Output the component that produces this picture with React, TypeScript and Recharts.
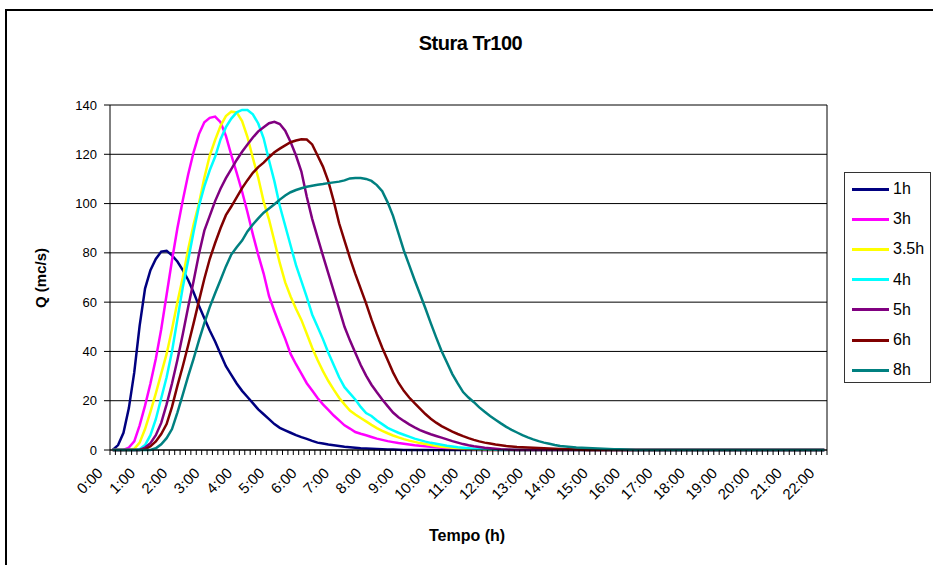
import { LineChart, Line, XAxis, YAxis, CartesianGrid, ReferenceLine } from "recharts";

// 10-minute steps, 0:00 .. 22:00
const times = [
  "0:00", "0:10", "0:20", "0:30", "0:40", "0:50", "1:00", "1:10", "1:20", "1:30", "1:40", "1:50",
  "2:00", "2:10", "2:20", "2:30", "2:40", "2:50", "3:00", "3:10", "3:20", "3:30", "3:40", "3:50",
  "4:00", "4:10", "4:20", "4:30", "4:40", "4:50", "5:00", "5:10", "5:20", "5:30", "5:40", "5:50",
  "6:00", "6:10", "6:20", "6:30", "6:40", "6:50", "7:00", "7:10", "7:20", "7:30", "7:40", "7:50",
  "8:00", "8:10", "8:20", "8:30", "8:40", "8:50", "9:00", "9:10", "9:20", "9:30", "9:40", "9:50",
  "10:00", "10:10", "10:20", "10:30", "10:40", "10:50", "11:00", "11:10", "11:20", "11:30", "11:40", "11:50",
  "12:00", "12:10", "12:20", "12:30", "12:40", "12:50", "13:00", "13:10", "13:20", "13:30", "13:40", "13:50",
  "14:00", "14:10", "14:20", "14:30", "14:40", "14:50", "15:00", "15:10", "15:20", "15:30", "15:40", "15:50",
  "16:00", "16:10", "16:20", "16:30", "16:40", "16:50", "17:00", "17:10", "17:20", "17:30", "17:40", "17:50",
  "18:00", "18:10", "18:20", "18:30", "18:40", "18:50", "19:00", "19:10", "19:20", "19:30", "19:40", "19:50",
  "20:00", "20:10", "20:20", "20:30", "20:40", "20:50", "21:00", "21:10", "21:20", "21:30", "21:40", "21:50",
  "22:00",
];

// Q (mc/s) per storm duration
const q1h = [
  0, 2, 7, 17, 31.5, 50.5, 65.5, 73, 77.5, 80.5, 80.8, 79,
  76.5, 73, 69, 64, 58.5, 53.5, 48.5, 44, 39, 34, 30.5, 27,
  24, 21.5, 19, 16.5, 14.5, 12.5, 10.5, 9, 8, 7, 6, 5.2,
  4.5, 3.7, 3, 2.6, 2.2, 1.9, 1.6, 1.3, 1.1, 0.9, 0.7, 0.6,
  0.5, 0.4, 0.3, 0.2, 0.2, 0.1, 0, 0, 0, 0, 0, 0,
  0, 0, 0, 0, 0, 0, 0, 0, 0, 0, 0, 0,
  0, 0, 0, 0, 0, 0, 0, 0, 0, 0, 0, 0,
  0, 0, 0, 0, 0, 0, 0, 0, 0, 0, 0, 0,
  0, 0, 0, 0, 0, 0, 0, 0, 0, 0, 0, 0,
  0, 0, 0, 0, 0, 0, 0, 0, 0, 0, 0, 0,
  0, 0, 0, 0, 0, 0, 0, 0, 0, 0, 0, 0,
  0,
];

const q3h = [
  0, 0, 0, 1, 3.5, 10, 18, 27, 37, 49, 63, 77,
  90, 101.3, 111.8, 120.8, 128.2, 133, 134.8, 135.3, 133, 127.5, 119.7, 112.5,
  104.9, 96.5, 87.5, 79.2, 71.6, 62.4, 56.3, 50.5, 45.1, 39, 34.8, 31,
  27.1, 24.1, 21.1, 18.5, 16.3, 14, 12, 10, 8.7, 7.3, 6.6, 6,
  5.3, 4.6, 4.1, 3.6, 3.2, 2.8, 2.5, 2.2, 1.9, 1.7, 1.5, 1.3,
  1.1, 0.9, 0.7, 0.6, 0.5, 0.4, 0.3, 0.2, 0.1, 0, 0, 0,
  0, 0, 0, 0, 0, 0, 0, 0, 0, 0, 0, 0,
  0, 0, 0, 0, 0, 0, 0, 0, 0, 0, 0, 0,
  0, 0, 0, 0, 0, 0, 0, 0, 0, 0, 0, 0,
  0, 0, 0, 0, 0, 0, 0, 0, 0, 0, 0, 0,
  0, 0, 0, 0, 0, 0, 0, 0, 0, 0, 0, 0,
  0,
];

const q35h = [
  0, 0, 0, 0, 0.5, 3, 8.5, 15.5, 23, 31, 39, 49,
  60, 70, 81.5, 91.5, 100, 110.5, 119.5, 125.8, 131.5, 135.5, 137.3, 137,
  133.5, 127, 118.5, 110.5, 100.8, 93.5, 84.7, 75.8, 68, 62.3, 57.3, 52.8,
  47.2, 41.5, 36.5, 32, 28, 24.5, 21.2, 18.5, 16, 14.4, 13, 11.6,
  10.2, 8.9, 7.8, 6.8, 5.9, 5.1, 4.4, 3.8, 3.3, 2.8, 2.4, 2,
  1.6, 1.3, 1.1, 0.9, 0.7, 0.5, 0.4, 0.3, 0.2, 0.1, 0, 0,
  0, 0, 0, 0, 0, 0, 0, 0, 0, 0, 0, 0,
  0, 0, 0, 0, 0, 0, 0, 0, 0, 0, 0, 0,
  0, 0, 0, 0, 0, 0, 0, 0, 0, 0, 0, 0,
  0, 0, 0, 0, 0, 0, 0, 0, 0, 0, 0, 0,
  0, 0, 0, 0, 0, 0, 0, 0, 0, 0, 0, 0,
  0,
];

const q4h = [
  0, 0, 0, 0, 0, 0.3, 2, 6, 12.5, 21, 29.5, 40,
  53, 66, 77, 88.5, 99, 107, 113.5, 119, 126, 131, 134.5, 137,
  138, 138, 136.2, 132.5, 126.5, 117.5, 109, 99, 91, 83, 75, 68.5,
  62, 55, 50, 45, 39.5, 34.5, 29.5, 25.5, 23, 20.5, 17.5, 15,
  13.8, 12, 10.5, 9, 8, 7, 6.2, 5.4, 4.6, 4, 3.4, 2.9,
  2.5, 2.1, 1.7, 1.4, 1.1, 0.9, 0.7, 0.5, 0.4, 0.3, 0.2, 0.1,
  0, 0, 0, 0, 0, 0, 0, 0, 0, 0, 0, 0,
  0, 0, 0, 0, 0, 0, 0, 0, 0, 0, 0, 0,
  0, 0, 0, 0, 0, 0, 0, 0, 0, 0, 0, 0,
  0, 0, 0, 0, 0, 0, 0, 0, 0, 0, 0, 0,
  0, 0, 0, 0, 0, 0, 0, 0, 0, 0, 0, 0,
  0,
];

const q5h = [
  0, 0, 0, 0, 0, 0, 1, 2.8, 6, 11, 18.5, 27,
  36.5, 47, 58, 68.5, 79.5, 89, 95, 101, 106, 110.3, 114, 117.7,
  121, 124, 126.8, 129.3, 131, 132.6, 133.2, 132.3, 129.6, 125, 119.5, 113,
  102.8, 93.8, 86.3, 78.9, 71.7, 64.5, 57.3, 50, 44.5, 39.5, 34.5, 30.2,
  26.5, 23.4, 20.5, 17.8, 15.2, 13.3, 11.8, 10.4, 9.2, 8.1, 7.2, 6.4,
  5.7, 5, 4.3, 3.6, 3, 2.4, 1.9, 1.5, 1.2, 0.9, 0.7, 0.5,
  0.3, 0.2, 0.1, 0, 0, 0, 0, 0, 0, 0, 0, 0,
  0, 0, 0, 0, 0, 0, 0, 0, 0, 0, 0, 0,
  0, 0, 0, 0, 0, 0, 0, 0, 0, 0, 0, 0,
  0, 0, 0, 0, 0, 0, 0, 0, 0, 0, 0, 0,
  0, 0, 0, 0, 0, 0, 0, 0, 0, 0, 0, 0,
  0,
];

const q6h = [
  0, 0, 0, 0, 0, 0, 0.3, 1.5, 3.5, 6.5, 10.5, 17.5,
  26, 34, 42.5, 51.4, 60.5, 69.5, 77.5, 84, 90, 95.3, 98.8, 102.5,
  106.3, 109.5, 112.5, 114.8, 116.6, 118.8, 120.8, 122.3, 123.6, 124.9, 125.6, 126.1,
  126, 124, 119.5, 115, 109, 101, 92, 85, 78, 71.5, 65.5, 59.5,
  53, 47, 41.5, 36.5, 31.5, 27.3, 24, 21.3, 19, 16.8, 14.6, 12.7,
  11.1, 9.7, 8.6, 7.5, 6.5, 5.6, 4.8, 4.1, 3.5, 3, 2.6, 2.2,
  1.9, 1.6, 1.4, 1.2, 1.1, 1, 0.9, 0.8, 0.7, 0.6, 0.5, 0.4,
  0.3, 0.3, 0.2, 0.1, 0, 0, 0, 0, 0, 0, 0, 0,
  0, 0, 0, 0, 0, 0, 0, 0, 0, 0, 0, 0,
  0, 0, 0, 0, 0, 0, 0, 0, 0, 0, 0, 0,
  0, 0, 0, 0, 0, 0, 0, 0, 0, 0, 0, 0,
  0,
];

const q8h = [
  0, 0, 0, 0, 0, 0, 0, 0, 0.7, 2.3, 4.8, 8.5,
  15.2, 22.5, 30, 37, 44.5, 51.5, 58, 63.6, 69, 74.5, 79.3, 82.3,
  85, 88.7, 91.5, 94, 96.3, 98, 99.7, 101.6, 103.3, 104.6, 105.5, 106.2,
  106.8, 107.2, 107.6, 107.9, 108.3, 108.6, 108.9, 109.4, 110.2, 110.4, 110.4, 110,
  109.2, 107.5, 105, 100.5, 95, 88, 81, 75, 69, 63.3, 57.5, 51.5,
  45.7, 40.2, 35.5, 30.8, 27, 23.5, 21.3, 19.4, 17.3, 15.5, 13.8, 12.3,
  10.8, 9.4, 8.2, 7.1, 6, 5.1, 4.3, 3.6, 3, 2.5, 2, 1.6,
  1.4, 1.2, 1, 0.9, 0.8, 0.7, 0.6, 0.5, 0.4, 0.3, 0.3, 0.2,
  0.1, 0, 0, 0, 0, 0, 0, 0, 0, 0, 0, 0,
  0, 0, 0, 0, 0, 0, 0, 0, 0, 0, 0, 0,
  0, 0, 0, 0, 0, 0, 0, 0, 0, 0, 0, 0,
  0,
];

const yTicks = [0, 20, 40, 60, 80, 100, 120, 140];

const series = [
  { key: "h1", name: "1h", color: "#000080", values: q1h },
  { key: "h3", name: "3h", color: "#ff00ff", values: q3h },
  { key: "h35", name: "3.5h", color: "#ffff00", values: q35h },
  { key: "h4", name: "4h", color: "#00ffff", values: q4h },
  { key: "h5", name: "5h", color: "#800080", values: q5h },
  { key: "h6", name: "6h", color: "#800000", values: q6h },
  { key: "h8", name: "8h", color: "#008080", values: q8h },
];

const rows = times.map((t, i) => {
  const row: Record<string, number | string> = { i, t };
  series.forEach((s) => {
    row[s.key] = s.values[i];
  });
  return row;
});

// labels on the full hours, small tick marks between categories
const hourIdx = times.map((t, i) => (t.endsWith(":00") ? i : -1)).filter((i) => i >= 0);
const bounds = Array.from({ length: times.length + 1 }, (_, k) => k - 0.5);
const xTicks = [...bounds, ...hourIdx].sort((a, b) => a - b);

const FONT = "'Liberation Sans', Arial, sans-serif";

function TimeTick(props: any) {
  const { x, y, payload } = props;
  const v = payload.value;
  if (Number.isInteger(v)) {
    const ax = x - 9;
    const ay = y + 24;
    return (
      <text
        x={ax}
        y={ay}
        textAnchor="end"
        fontSize={15}
        fontFamily={FONT}
        fill="#000"
        transform={`rotate(-45 ${ax} ${ay})`}
      >
        {times[v]}
      </text>
    );
  }
  return <line x1={x} x2={x} y1={y} y2={y + 5} stroke="#000" strokeWidth={1} />;
}

export default function App() {
  return (
    <div
      style={{
        position: "absolute",
        left: 0,
        top: 0,
        width: 933,
        height: 565,
        overflow: "hidden",
        background: "#fff",
        fontFamily: FONT,
      }}
    >
      <div
        style={{
          position: "absolute",
          left: 5,
          top: 9,
          width: 2000,
          height: 2000,
          border: "2px solid #000",
        }}
      />
      <div
        style={{
          position: "absolute",
          left: 0,
          top: 32,
          width: 933,
          textAlign: "center",
          fontSize: 20,
          fontWeight: "bold",
          letterSpacing: -0.5,
          paddingLeft: 4,
        }}
      >
        Stura Tr100
      </div>
      <div
        style={{
          position: "absolute",
          left: 40,
          top: 278,
          transform: "translate(-50%, -50%) rotate(-90deg)",
          fontSize: 15,
          fontWeight: "bold",
          whiteSpace: "nowrap",
        }}
      >
        Q (mc/s)
      </div>
      <div
        style={{
          position: "absolute",
          left: 467,
          top: 527,
          transform: "translateX(-50%)",
          fontSize: 16,
          fontWeight: "bold",
          whiteSpace: "nowrap",
        }}
      >
        Tempo (h)
      </div>

      <div style={{ position: "absolute", left: 0, top: 0 }}>
        <LineChart
          width={933}
          height={565}
          data={rows}
          margin={{ top: 105, right: 106, bottom: 55, left: 50 }}
        >
          <CartesianGrid horizontal vertical={false} stroke="#000" strokeWidth={1} />
          <XAxis
            dataKey="i"
            type="number"
            domain={[-0.5, times.length - 0.5]}
            ticks={xTicks}
            interval={0}
            tick={<TimeTick />}
            tickLine={false}
            tickSize={0}
            tickMargin={0}
            height={60}
            axisLine={{ stroke: "#000", strokeWidth: 1 }}
          />
          <YAxis
            domain={[0, 140]}
            ticks={yTicks}
            interval={0}
            width={60}
            tickSize={6}
            tickMargin={7}
            tickLine={{ stroke: "#000" }}
            axisLine={{ stroke: "#000", strokeWidth: 1 }}
            tick={{ fontSize: 13, fill: "#000", fontFamily: FONT }}
          />
          <ReferenceLine x={times.length - 0.5} stroke="#000" strokeWidth={1} />
          {series.map((s) => (
            <Line
              key={s.key}
              dataKey={s.key}
              name={s.name}
              type="linear"
              stroke={s.color}
              strokeWidth={2.5}
              dot={false}
              isAnimationActive={false}
            />
          ))}
        </LineChart>
      </div>

      <div
        style={{
          position: "absolute",
          left: 844,
          top: 172,
          width: 87,
          height: 211,
          border: "1px solid #333",
          boxSizing: "border-box",
          background: "#fff",
        }}
      >
        {series.map((s, k) => (
          <div
            key={s.key}
            style={{
              position: "absolute",
              left: 7,
              top: 4 + k * 30.2,
              height: 24,
              display: "flex",
              alignItems: "center",
            }}
          >
            <span style={{ display: "inline-block", width: 37, height: 3, background: s.color }} />
            <span style={{ marginLeft: 4, fontSize: 16, color: "#000" }}>{s.name}</span>
          </div>
        ))}
      </div>
    </div>
  );
}
